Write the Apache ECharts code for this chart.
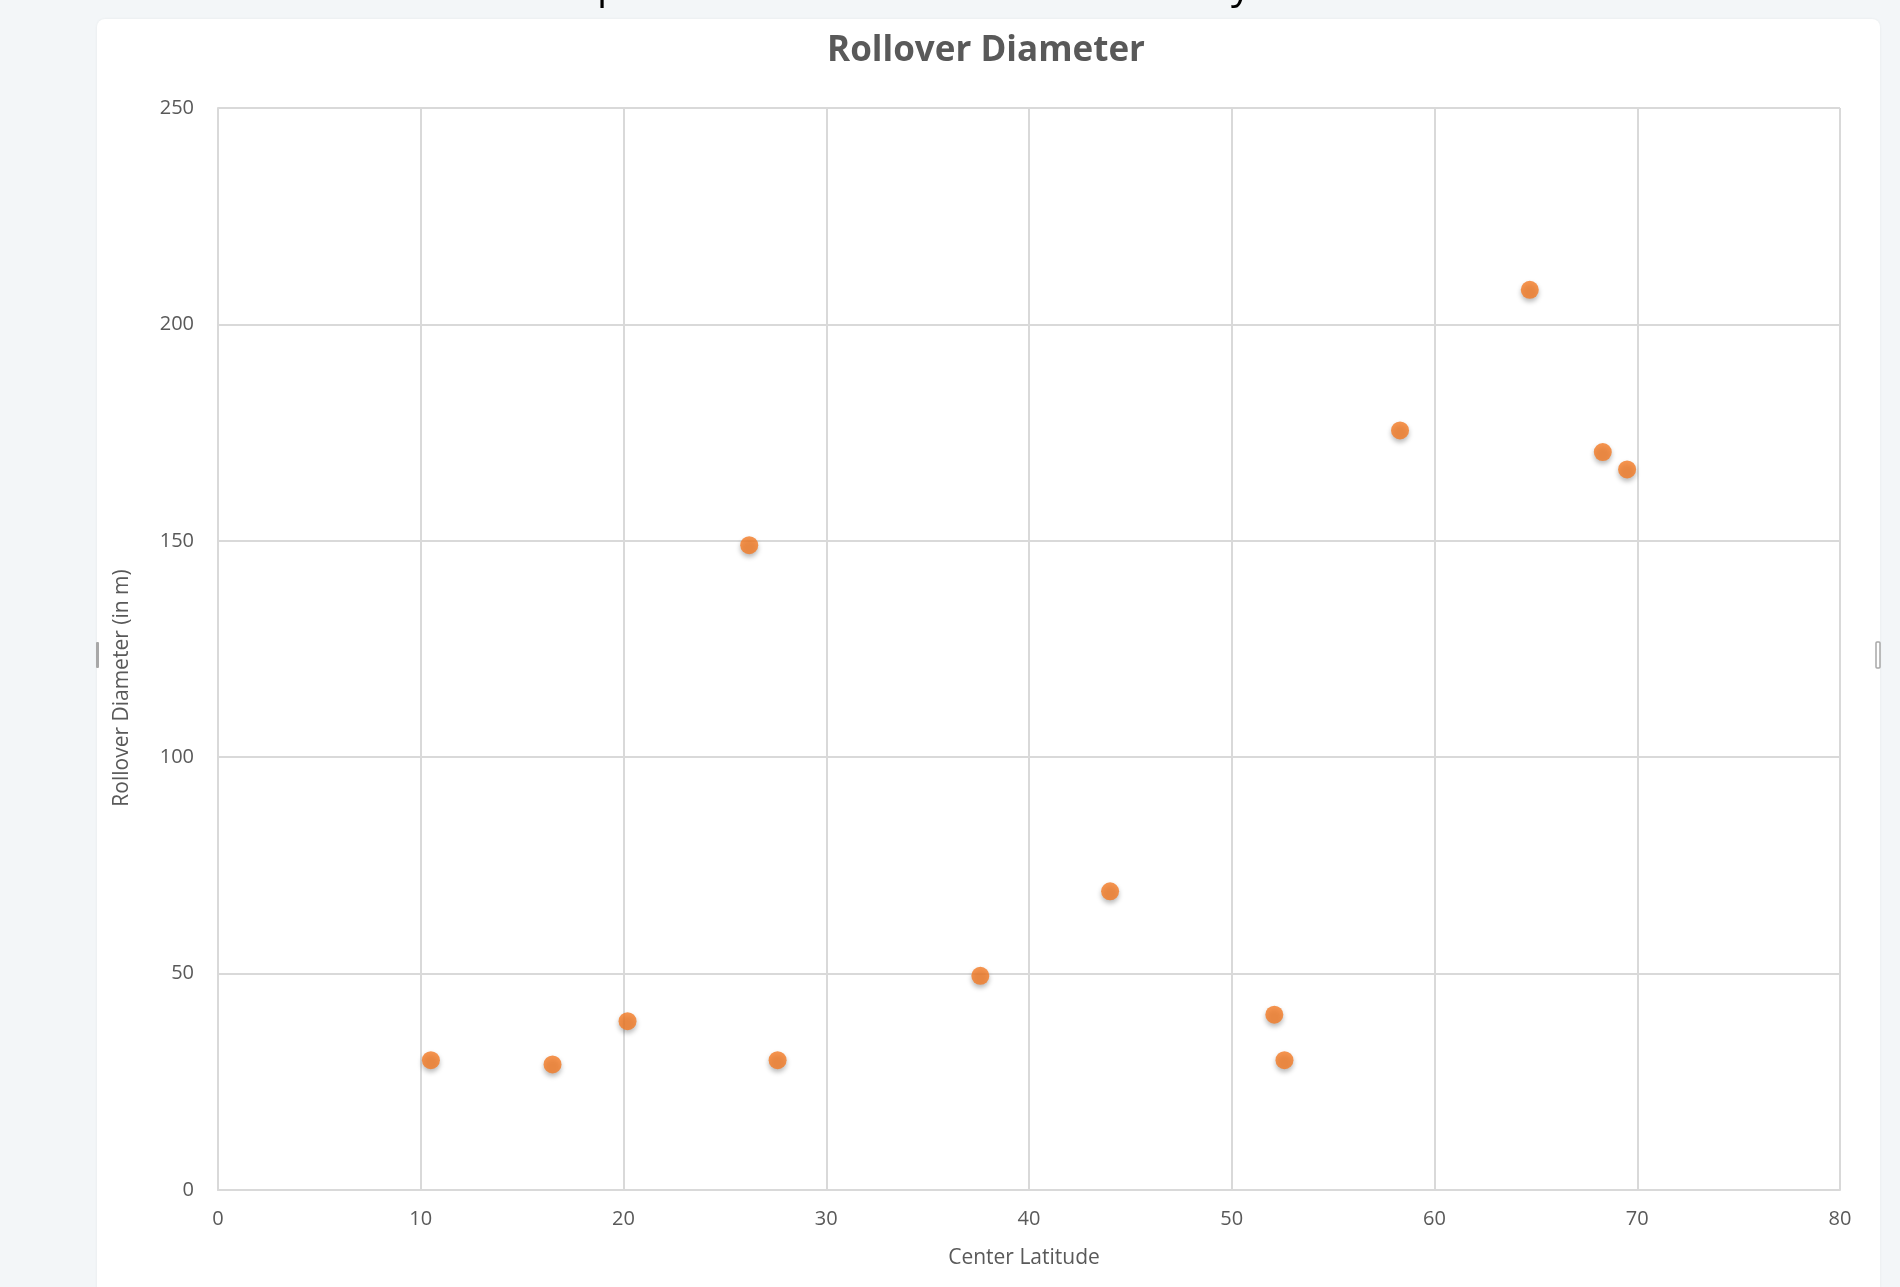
<!DOCTYPE html>
<html>
<head>
<meta charset="utf-8">
<script src="https://cdn.jsdelivr.net/npm/echarts@6/dist/echarts.min.js"></script>
<style>
  html, body { margin: 0; padding: 0; width: 1900px; height: 1287px; overflow: hidden; background: #f3f6f8; }
  #card { position: absolute; left: 97px; top: 19px; width: 1783px; height: 1300px; background: #ffffff; border-radius: 8px; box-shadow: 0 0 3px rgba(0,0,0,0.06); }
  #chart { position: absolute; left: 0; top: 0; width: 1900px; height: 1287px; }
</style>
</head>
<body>
<div id="card"></div>
<div id="chart"></div>
<script>
// Data
const latitudes = [10.5, 16.5, 20.2, 26.2, 27.6, 37.6, 44.0, 52.1, 52.6, 58.3, 64.7, 68.3, 69.5];
const diameters = [30, 29, 39, 149, 30, 49.5, 69, 40.5, 30, 175.5, 208, 170.5, 166.5];
const chartTitle = 'Rollover Diameter';
const xAxisTitle = 'Center Latitude';
const yAxisTitle = 'Rollover Diameter (in m)';
const xTicks = { min: 0, max: 80, interval: 10 };
const yTicks = { min: 0, max: 250, interval: 50 };

const points = latitudes.map((x, i) => [x, diameters[i]]);
const FONT = 'Open Sans';
const gridColor = '#d9d9d9';
const textColor = '#595959';

const chart = echarts.init(document.getElementById('chart'), null, { renderer: 'canvas' });
chart.setOption({
  backgroundColor: 'transparent',
  animation: false,
  title: {
    text: chartTitle,
    left: 981, top: 29, textAlign: 'center',
    textStyle: { fontFamily: FONT, fontSize: 35, fontWeight: 'bold', color: textColor }
  },
  grid: { left: 218, right: 60, top: 108, bottom: 97, containLabel: false },
  xAxis: {
    type: 'value', min: xTicks.min, max: xTicks.max, interval: xTicks.interval,
    name: xAxisTitle, nameLocation: 'middle', nameGap: 58,
    nameTextStyle: { fontFamily: FONT, fontSize: 21, color: textColor, padding: [0, 10, 0, 0] },
    axisLine: { show: true, lineStyle: { color: gridColor, width: 2 } },
    axisTick: { show: false },
    axisLabel: { fontFamily: FONT, fontSize: 20, color: textColor, margin: 19 },
    splitLine: { show: true, lineStyle: { color: gridColor, width: 2 } }
  },
  yAxis: {
    type: 'value', min: yTicks.min, max: yTicks.max, interval: yTicks.interval,
    axisLine: { show: true, lineStyle: { color: gridColor, width: 2 } },
    axisTick: { show: false },
    axisLabel: { fontFamily: FONT, fontSize: 20, color: textColor, margin: 24 },
    splitLine: { show: true, lineStyle: { color: gridColor, width: 2 } }
  },
  graphic: [
    { type: 'text', x: 122, y: 688, rotation: Math.PI / 2,
      style: { text: yAxisTitle, fontFamily: FONT, fontSize: 21, fill: textColor, align: 'center', verticalAlign: 'middle' } },
    { type: 'text', x: 597, y: -13,
      style: { text: 'p', fontFamily: FONT, fontSize: 40, fill: '#000', align: 'left', verticalAlign: 'middle' } },
    { type: 'text', x: 1231, y: -13,
      style: { text: 'y', fontFamily: FONT, fontSize: 40, fill: '#000', align: 'left', verticalAlign: 'middle' } },
    { type: 'rect', shape: { x: 96, y: 642, width: 3, height: 26, r: 1 }, style: { fill: '#a8a8a8' } },
    { type: 'rect', shape: { x: 1876, y: 642, width: 4, height: 26, r: 1 }, style: { fill: '#ffffff', stroke: '#a8a8a8', lineWidth: 1.5 } }
  ],
  series: [{
    type: 'scatter',
    data: points,
    symbol: 'circle',
    symbolSize: 18,
    itemStyle: {
      color: '#F47A24',
      shadowColor: 'rgba(0,0,0,0.35)', shadowBlur: 5, shadowOffsetY: 3
    }
  }]
});
</script>
</body>
</html>
